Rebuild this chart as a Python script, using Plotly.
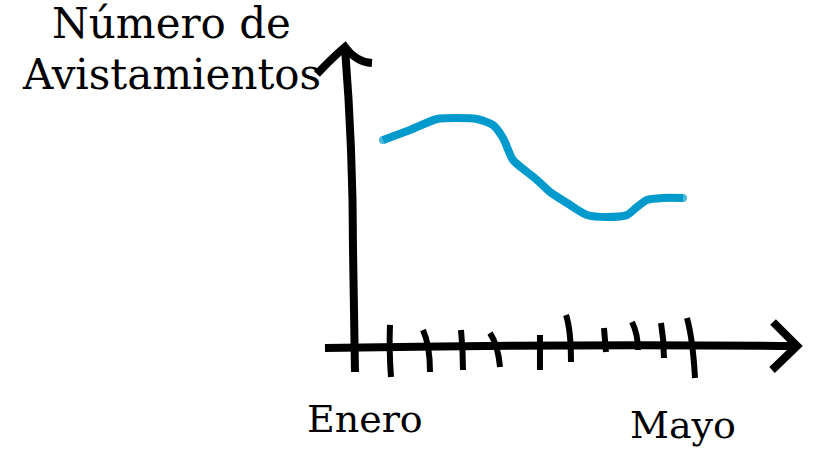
import plotly.graph_objects as go

# ---------------- data ----------------
# months as numbers (1 = Enero, 5 = Mayo), sightings in arbitrary units
months = [1.226, 1.566, 1.906, 2.157, 2.409, 2.610, 2.736, 2.862, 3.038, 3.164,
          3.327, 3.541, 3.792, 4.044, 4.296, 4.421, 4.547, 4.748, 5.0]
sightings = [103.5, 108.5, 114.0, 114.5, 114.0, 111.0, 104.5, 93.5, 87.5, 83.5,
             77.5, 72.0, 66.0, 65.0, 66.0, 70.0, 73.5, 74.5, 74.5]
tick_labels = ["Enero", "Mayo"]
tick_months = [1, 5]

W, H = 825, 451
# axis ranges chosen so that 1 month = 79.5 px and 1 unit = 2 px
X0 = 1 - 365 / 79.5
X1 = X0 + W / 79.5
Y0 = -(H - 347) / 2
Y1 = Y0 + H / 2

fig = go.Figure()

n = len(months)
fig.add_trace(go.Scatter(
    x=months, y=sightings, mode="lines+markers",
    line=dict(color="#009ACD", width=8, shape="spline", smoothing=0.7),
    marker=dict(color="#009ACD", size=[8] + [0] * (n - 2) + [8], line=dict(width=0)),
    hoverinfo="skip", showlegend=False,
))


def P(x, y):
    return f"{x / W:.4f},{1 - y / H:.4f}"


shapes = []


def add(d, width=7):
    shapes.append(dict(type="path", xref="paper", yref="paper", path=d,
                       line=dict(color="black", width=width)))


# y axis shaft and arrowhead
add("M " + P(345, 48) + " Q " + P(353, 150) + " " + P(353, 250) + " L " + P(355, 372), width=8)
add("M " + P(317, 74) + " Q " + P(332, 58) + " " + P(345, 47) + " Q " + P(356, 62) + " " + P(372, 63), width=8)
# x axis shaft and arrowhead
add("M " + P(325, 348) + " Q " + P(560, 344) + " " + P(797, 346), width=8)
add("M " + P(773, 322) + " L " + P(797, 346) + " L " + P(772, 370), width=8)

# hand-drawn tick squiggles (pixel sketches)
ticks = [
    [(390, 325), (389, 350), (391, 377)],
    [(423, 330), (430, 345), (430, 372)],
    [(461, 330), (463, 350), (463, 370)],
    [(490, 333), (498, 345), (500, 367)],
    [(540, 335), (540, 352), (540, 370)],
    [(566, 315), (571, 330), (571, 362)],
    [(604, 328), (605, 340), (606, 352)],
    [(632, 322), (638, 334), (638, 350)],
    [(661, 323), (664, 340), (664, 358)],
    [(687, 318), (693, 340), (695, 378)],
]
for t in ticks:
    add("M " + P(*t[0]) + " Q " + P(*t[1]) + " " + P(*t[2]), width=6)

title_font = dict(family="DejaVu Serif", size=42, color="black")
font = dict(family="DejaVu Serif", size=38, color="black")
annotations = []
for txt, cy in [("Número de", 23), ("Avistamientos", 75)]:
    annotations.append(dict(text=txt, xref="paper", yref="paper",
                            x=171 / W, y=1 - cy / H, xanchor="center", yanchor="middle",
                            showarrow=False, font=title_font))
label_y = [419, 425]
for m, lab, ly in zip(tick_months, tick_labels, label_y):
    annotations.append(dict(text=lab, xref="x", yref="paper", x=m,
                            y=1 - ly / H, xanchor="center", yanchor="middle",
                            showarrow=False, font=font))

fig.update_layout(
    width=W, height=H,
    margin=dict(l=0, r=0, t=0, b=0),
    paper_bgcolor="white", plot_bgcolor="white",
    xaxis=dict(range=[X0, X1], visible=False),
    yaxis=dict(range=[Y0, Y1], visible=False),
    shapes=shapes, annotations=annotations,
    showlegend=False,
)

fig.write_html("out.html")
